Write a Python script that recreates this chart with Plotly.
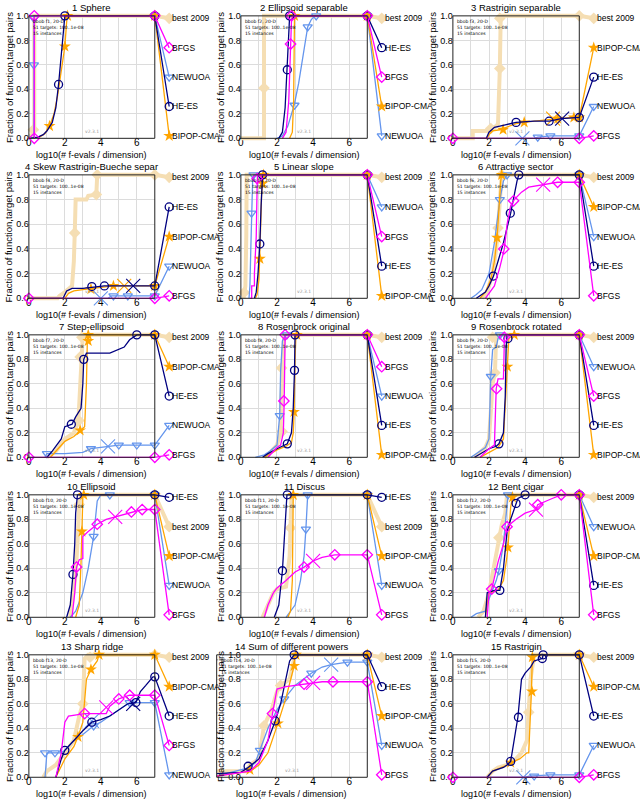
import plotly.graph_objects as go

W, H = 640, 804
FONT = "Liberation Sans, Arial, sans-serif"

ALGS = ["best 2009", "NEWUOA", "BIPOP-CMA", "HE-ES", "BFGS"]  # drawing order
COLOR = {"best 2009": "#F5DEB3", "BFGS": "#FF00FF", "NEWUOA": "#6495ED",
         "HE-ES": "#000080", "BIPOP-CMA": "#FFA500"}
SYMBOL = {"best 2009": "diamond", "BFGS": "diamond-open", "NEWUOA": "triangle-down-open",
          "HE-ES": "circle-open", "BIPOP-CMA": "star"}
MSIZE = {"best 2009": 9, "BFGS": 8, "NEWUOA": 8, "HE-ES": 8, "BIPOP-CMA": 9}
LWIDTH = {"best 2009": 4, "BFGS": 1.3, "NEWUOA": 1.3, "HE-ES": 1.3, "BIPOP-CMA": 1.3}

LABEL_Y = [0.98, 0.74, 0.50, 0.26, 0.02]
LABEL_X = 7.8
X_END = 7.0

TITLES = ["1 Sphere", "2 Ellipsoid separable", "3 Rastrigin separable",
          "4 Skew Rastrigin-Bueche separ", "5 Linear slope", "6 Attractive sector",
          "7 Step-ellipsoid", "8 Rosenbrock original", "9 Rosenbrock rotated",
          "10 Ellipsoid", "11 Discus", "12 Bent cigar",
          "13 Sharp ridge", "14 Sum of different powers", "15 Rastrigin"]
X_MIN = [0, 0, 0, 0, 0, 0, 0, 0, 0, 0, 0, 0, 0, -1.34, 0]
X_TICKS = [0, 2, 4, 6]
Y_TICKS = [0.0, 0.2, 0.4, 0.6, 0.8, 1.0]

# ---------------- data: curves [x list, y list], markers, crosses, label order
P1_CURVES = {
    "best 2009": [[0, 0.2, 0.2, 0.3, 0.3, 7], [0.02, 0.02, 0.07, 0.07, 1, 1]],
    "BFGS": [[0.3, 0.3, 7], [0, 1, 1]],
    "NEWUOA": [[0.28, 0.28, 7], [0, 1, 1]],
    "HE-ES": [[0, 0.5, 0.8, 1.0, 1.3, 1.5, 1.65, 1.8, 1.9, 2.0, 7],
              [0, 0.01, 0.03, 0.06, 0.13, 0.25, 0.44, 0.7, 0.88, 1.0, 1.0]],
    "BIPOP-CMA": [[0.5, 0.9, 1.15, 1.4, 1.6, 1.8, 2.0, 2.1, 2.15, 7],
                  [0, 0.04, 0.1, 0.2, 0.35, 0.55, 0.75, 0.95, 1.0, 1.0]],
}
P1_MARKS = {"best 2009": [[0.25], [0.07]], "BFGS": [[0.3, 0.3], [0.0, 1.0]],
            "NEWUOA": [[0.28, 0.28], [0.6, 0.98]], "HE-ES": [[1.65, 2.0], [0.44, 1.0]],
            "BIPOP-CMA": [[1.15, 2.0, 2.15], [0.1, 0.75, 1.0]]}
P1_CROSS = {}
P1_ORDER = ["best 2009", "BFGS", "NEWUOA", "HE-ES", "BIPOP-CMA"]

P2_CURVES = {
    "best 2009": [[0, 1.28, 1.28, 7], [0, 0, 1, 1]],
    "HE-ES": [[2.1, 2.3, 2.45, 2.57, 2.65, 2.7, 7], [0, 0.05, 0.25, 0.56, 0.85, 1, 1]],
    "BFGS": [[2.3, 2.5, 2.65, 2.75, 2.8, 2.85, 7], [0, 0.05, 0.3, 0.77, 0.95, 1, 1]],
    "BIPOP-CMA": [[2.7, 2.85, 2.92, 2.95, 2.97, 7], [0, 0.05, 0.3, 0.8, 1, 1]],
    "NEWUOA": [[2.0, 2.3, 2.6, 2.95, 3.2, 3.4, 3.7, 3.9, 4.1, 7],
               [0, 0.02, 0.1, 0.27, 0.45, 0.65, 0.91, 0.97, 1, 1]],
}
P2_MARKS = {"best 2009": [[1.28], [0.41]], "HE-ES": [[2.57, 2.7], [0.56, 1.0]],
            "BFGS": [[2.75, 2.8], [0.77, 1.0]], "BIPOP-CMA": [[2.97], [1.0]],
            "NEWUOA": [[2.97, 3.7, 4.17], [0.27, 0.91, 1.0]]}
P2_CROSS = {}
P2_ORDER = ["best 2009", "HE-ES", "BFGS", "BIPOP-CMA", "NEWUOA"]

P3_CURVES = {
    "best 2009": [[0, 1.1, 1.1, 2.0, 2.1, 2.4, 2.5, 2.55, 2.6, 2.65, 7],
                  [0, 0, 0.06, 0.06, 0.08, 0.1, 0.12, 0.3, 0.57, 1.0, 1.0]],
    "BIPOP-CMA": [[0, 1.9, 2.0, 2.2, 2.6, 2.8, 3.5, 3.9, 5.0, 5.8, 6.7, 7],
                  [0, 0, 0.03, 0.06, 0.07, 0.08, 0.12, 0.13, 0.15, 0.16, 0.17, 0.17]],
    "HE-ES": [[0, 1.85, 2.0, 2.3, 2.9, 3.5, 4.5, 5.35, 6.0, 7],
              [0, 0, 0.05, 0.09, 0.11, 0.13, 0.14, 0.14, 0.16, 0.17]],
    "NEWUOA": [[0, 4.5, 4.7, 5.4, 7], [0, 0, 0.01, 0.02, 0.02]],
    "BFGS": [[0, 7], [0, 0]],
}
P3_MARKS = {"best 2009": [[2.1, 2.6, 2.6], [0.08, 0.57, 0.98]],
            "BIPOP-CMA": [[2.78, 3.95, 5.8, 6.7], [0.07, 0.13, 0.16, 0.17]],
            "HE-ES": [[3.5, 5.33], [0.13, 0.14]], "NEWUOA": [[4.7, 5.4], [0.01, 0.02]],
            "BFGS": [[0], [0]]}
P3_CROSS = {"BIPOP-CMA": [5.55, 0.16], "HE-ES": [6.05, 0.16], "NEWUOA": [3.85, 0.0]}
P3_ORDER = ["best 2009", "BIPOP-CMA", "HE-ES", "NEWUOA", "BFGS"]

P4_CURVES = {
    "best 2009": [[0, 1.6, 1.7, 2.0, 2.4, 2.5, 2.55, 2.6, 3.2, 3.3, 3.75, 3.8, 7],
                  [0, 0, 0.02, 0.05, 0.1, 0.3, 0.53, 0.8, 0.8, 0.83, 0.84, 1.0, 1.0]],
    "HE-ES": [[0, 1.9, 2.1, 2.4, 3.0, 3.5, 4.2, 5.8, 7],
              [0, 0, 0.06, 0.08, 0.08, 0.09, 0.1, 0.1, 0.1]],
    "BIPOP-CMA": [[0, 2.0, 2.2, 2.5, 3.0, 3.5, 4.7, 7],
                  [0, 0, 0.04, 0.06, 0.07, 0.08, 0.1, 0.1]],
    "NEWUOA": [[0, 4.4, 4.6, 7], [0, 0, 0.02, 0.02]],
    "BFGS": [[0, 7], [0, 0]],
}
P4_MARKS = {"best 2009": [[2.55, 3.75, 3.8], [0.53, 0.84, 1.0]],
            "HE-ES": [[3.5, 4.2], [0.095, 0.1]], "BIPOP-CMA": [[3.45, 4.7], [0.075, 0.1]],
            "NEWUOA": [[4.7, 5.5], [0.02, 0.02]], "BFGS": [[0], [0]]}
P4_CROSS = {"HE-ES": [5.8, 0.1], "BIPOP-CMA": [5.3, 0.1], "NEWUOA": [4.0, 0.0]}
P4_ORDER = ["best 2009", "HE-ES", "BIPOP-CMA", "NEWUOA", "BFGS"]

P5_CURVES = {
    "best 2009": [[0.15, 0.2, 0.25, 0.3, 0.32, 7], [0.0, 0.05, 0.1, 0.5, 1.0, 1.0]],
    "NEWUOA": [[0.45, 0.5, 0.55, 0.6, 0.65, 0.7, 7], [0, 0.1, 0.4, 0.69, 0.95, 1, 1]],
    "BFGS": [[0.5, 0.6, 0.6, 0.75, 0.75, 0.85, 0.9, 0.92, 7], [0, 0, 0.1, 0.1, 0.2, 0.5, 0.9, 1, 1]],
    "HE-ES": [[0.75, 0.85, 0.95, 1.05, 1.12, 1.18, 1.2, 7], [0, 0.05, 0.2, 0.44, 0.75, 0.95, 1, 1]],
    "BIPOP-CMA": [[0.8, 0.9, 1.0, 1.05, 1.1, 1.15, 1.2, 1.25, 7],
                  [0, 0.03, 0.15, 0.32, 0.6, 0.85, 0.93, 1, 1]],
}
P5_MARKS = {"best 2009": [[0.18], [0.046]], "NEWUOA": [[0.59, 0.7], [0.69, 1.0]],
            "BFGS": [[0.9], [0.97]], "HE-ES": [[1.05, 1.2], [0.44, 1.0]],
            "BIPOP-CMA": [[1.05, 1.2, 1.25], [0.32, 0.93, 1.0]]}
P5_CROSS = {}
P5_ORDER = ["best 2009", "NEWUOA", "BFGS", "HE-ES", "BIPOP-CMA"]

P6_CURVES = {
    "best 2009": [[1.6, 1.9, 2.2, 2.4, 2.5, 2.6, 2.7, 7], [0, 0.05, 0.2, 0.4, 0.57, 0.85, 1, 1]],
    "BIPOP-CMA": [[1.5, 1.8, 2.1, 2.3, 2.45, 2.55, 2.65, 2.7, 7],
                  [0, 0.05, 0.15, 0.3, 0.49, 0.75, 0.95, 1, 1]],
    "NEWUOA": [[1.0, 1.3, 1.6, 2.0, 2.3, 2.6, 2.8, 3.0, 7],
               [0, 0.03, 0.07, 0.2, 0.45, 0.8, 0.95, 1, 1]],
    "HE-ES": [[1.3, 1.8, 2.0, 2.25, 2.5, 2.8, 3.2, 3.4, 3.55, 3.65, 7],
              [0, 0.05, 0.1, 0.18, 0.3, 0.45, 0.69, 0.85, 0.95, 1, 1]],
    "BFGS": [[1.8, 2.3, 2.6, 2.85, 3.0, 3.2, 3.4, 3.8, 4.2, 5.0, 5.8, 7],
             [0, 0.1, 0.25, 0.4, 0.6, 0.75, 0.8, 0.86, 0.9, 0.92, 0.94, 0.94]],
}
P6_MARKS = {"best 2009": [[2.5, 2.7], [0.57, 1.0]], "BIPOP-CMA": [[2.45, 2.7], [0.49, 1.0]],
            "NEWUOA": [[2.6, 3.0], [0.8, 1.0]], "HE-ES": [[2.24, 3.18, 3.65], [0.18, 0.69, 1.0]],
            "BFGS": [[2.82, 3.36, 5.8], [0.4, 0.79, 0.94]]}
P6_CROSS = {"BFGS": [5.0, 0.92]}
P6_ORDER = ["best 2009", "BIPOP-CMA", "NEWUOA", "HE-ES", "BFGS"]

P7_CURVES = {
    "best 2009": [[1.0, 1.5, 2.0, 2.5, 2.75, 2.85, 2.9, 2.95, 3.0, 7],
                  [0, 0.05, 0.15, 0.2, 0.29, 0.6, 0.82, 0.95, 1, 1]],
    "BIPOP-CMA": [[1.2, 1.5, 2.0, 2.5, 2.85, 3.1, 3.2, 3.25, 3.3, 7],
                  [0, 0.05, 0.13, 0.17, 0.22, 0.25, 0.6, 0.95, 1, 1]],
    "HE-ES": [[1.0, 1.3, 1.8, 2.0, 2.4, 2.6, 2.9, 3.0, 3.05, 3.2, 4.5, 5.0, 5.3, 5.6, 6.0, 7],
              [0, 0.05, 0.15, 0.25, 0.27, 0.33, 0.4, 0.6, 0.8, 0.85, 0.85, 0.88, 0.9, 0.96, 1, 1]],
    "NEWUOA": [[0.9, 1.0, 2.0, 3.0, 3.45, 4.4, 5.0, 7], [0, 0.03, 0.03, 0.04, 0.07, 0.09, 0.1, 0.1]],
    "BFGS": [[0, 7], [0, 0]],
}
P7_MARKS = {"best 2009": [[2.78, 2.85, 2.95], [0.3, 0.82, 0.98]],
            "BIPOP-CMA": [[2.85, 3.3, 3.3], [0.22, 0.95, 1.0]],
            "HE-ES": [[2.36, 3.05, 6.0], [0.27, 0.8, 1.0]],
            "NEWUOA": [[1.0, 3.45, 5.0, 6.0], [0.03, 0.07, 0.1, 0.1]], "BFGS": [[0], [0]]}
P7_CROSS = {"NEWUOA": [4.4, 0.09]}
P7_ORDER = ["best 2009", "BIPOP-CMA", "HE-ES", "NEWUOA", "BFGS"]

P8_CURVES = {
    "best 2009": [[1.3, 1.5, 2.0, 2.2, 2.25, 2.3, 2.35, 2.4, 7], [0, 0.02, 0.1, 0.2, 0.5, 0.73, 0.95, 1, 1]],
    "BFGS": [[1.5, 2.0, 2.2, 2.35, 2.4, 2.45, 7], [0, 0.08, 0.1, 0.2, 0.46, 1, 1]],
    "NEWUOA": [[0.8, 1.3, 1.6, 2.0, 2.15, 2.2, 2.3, 2.4, 2.55, 7],
               [0, 0.02, 0.05, 0.1, 0.34, 0.7, 0.95, 0.98, 1, 1]],
    "HE-ES": [[1.2, 1.5, 2.0, 2.3, 2.57, 2.8, 2.9, 2.97, 3.0, 7],
              [0, 0.03, 0.07, 0.09, 0.11, 0.2, 0.4, 0.71, 1, 1]],
    "BIPOP-CMA": [[1.3, 2.0, 2.5, 2.8, 2.9, 2.95, 3.0, 3.05, 7],
                  [0, 0.06, 0.09, 0.12, 0.2, 0.37, 0.8, 1, 1]],
}
P8_MARKS = {"best 2009": [[2.28, 2.25], [0.21, 0.73]], "BFGS": [[2.38, 2.45], [0.46, 1.0]],
            "NEWUOA": [[2.15, 2.55], [0.34, 1.0]], "HE-ES": [[2.57, 2.97, 3.0], [0.11, 0.71, 1.0]],
            "BIPOP-CMA": [[2.94, 3.1], [0.37, 1.0]]}
P8_CROSS = {}
P8_ORDER = ["best 2009", "BFGS", "NEWUOA", "HE-ES", "BIPOP-CMA"]

P9_CURVES = {
    "best 2009": [[1.2, 1.5, 1.8, 2.0, 2.1, 2.2, 2.33, 2.35, 2.4, 7],
                  [0, 0.04, 0.08, 0.15, 0.4, 0.6, 0.69, 0.9, 1.0, 1.0]],
    "NEWUOA": [[1.0, 1.5, 1.8, 2.0, 2.1, 2.2, 2.4, 2.5, 2.6, 7],
               [0, 0.05, 0.08, 0.15, 0.66, 0.88, 0.9, 0.97, 1, 1]],
    "BFGS": [[1.5, 2.0, 2.3, 2.35, 2.4, 2.5, 2.8, 2.85, 2.9, 7],
             [0, 0.07, 0.1, 0.4, 0.56, 0.64, 0.64, 0.95, 1, 1]],
    "HE-ES": [[1.2, 2.0, 2.4, 2.55, 2.8, 2.9, 2.95, 3.0, 7], [0, 0.07, 0.09, 0.11, 0.2, 0.5, 0.9, 1, 1]],
    "BIPOP-CMA": [[1.5, 2.5, 2.8, 2.9, 3.0, 3.1, 3.3, 3.4, 7], [0, 0.08, 0.15, 0.4, 0.74, 0.97, 0.99, 1, 1]],
}
P9_MARKS = {"best 2009": [[2.33, 2.2], [0.69, 0.98]], "NEWUOA": [[2.1, 2.6], [0.66, 1.0]],
            "BFGS": [[2.42, 2.85], [0.56, 0.98]], "HE-ES": [[2.55, 3.05], [0.11, 0.97]],
            "BIPOP-CMA": [[3.02, 3.4], [0.74, 1.0]]}
P9_CROSS = {}
P9_ORDER = ["best 2009", "NEWUOA", "BFGS", "HE-ES", "BIPOP-CMA"]

P10_CURVES = {
    "HE-ES": [[2.1, 2.3, 2.45, 2.55, 2.6, 2.65, 2.7, 7], [0, 0.1, 0.35, 0.6, 0.85, 0.97, 1, 1]],
    "best 2009": [[2.3, 2.5, 2.6, 2.7, 2.8, 2.9, 7], [0, 0.2, 0.35, 0.6, 0.92, 1, 1]],
    "BIPOP-CMA": [[2.6, 2.8, 2.9, 2.95, 3.0, 3.05, 7], [0, 0.1, 0.45, 0.7, 0.98, 1, 1]],
    "NEWUOA": [[2.3, 2.6, 3.0, 3.3, 3.6, 3.8, 4.0, 7], [0, 0.05, 0.2, 0.4, 0.66, 0.95, 1, 1]],
    "BFGS": [[2.4, 2.55, 2.65, 2.8, 3.0, 3.0, 3.3, 3.8, 4.3, 4.8, 5.7, 6.3, 7],
             [0, 0.2, 0.41, 0.47, 0.48, 0.66, 0.7, 0.76, 0.8, 0.82, 0.86, 0.88, 0.88]],
}
P10_MARKS = {"HE-ES": [[2.45, 2.7], [0.35, 1.0]], "best 2009": [[2.8], [0.92]],
             "BIPOP-CMA": [[2.95, 3.05], [0.7, 1.0]], "NEWUOA": [[3.6, 4.5], [0.66, 1.0]],
             "BFGS": [[2.65, 3.8, 5.7, 6.3], [0.41, 0.76, 0.86, 0.88]]}
P10_CROSS = {"BFGS": [4.8, 0.82]}
P10_ORDER = ["HE-ES", "best 2009", "BIPOP-CMA", "NEWUOA", "BFGS"]

P11_CURVES = {
    "HE-ES": [[1.85, 2.1, 2.3, 2.45, 2.55, 7], [0, 0.1, 0.38, 0.8, 1, 1]],
    "best 2009": [[1.2, 1.5, 1.8, 2.0, 2.5, 2.7, 2.75, 2.8, 7], [0, 0.1, 0.2, 0.23, 0.25, 0.5, 0.73, 1, 1]],
    "BIPOP-CMA": [[2.6, 2.75, 2.85, 2.9, 7], [0, 0.05, 0.3, 1, 1]],
    "NEWUOA": [[2.5, 3.0, 3.3, 3.5, 3.6, 3.7, 7], [0, 0.1, 0.3, 0.5, 0.72, 1, 1]],
    "BFGS": [[1.3, 1.5, 1.8, 2.0, 2.5, 3.0, 3.5, 4.0, 4.5, 5.2, 7],
             [0, 0.1, 0.2, 0.24, 0.3, 0.37, 0.41, 0.46, 0.49, 0.51, 0.51]],
}
P11_MARKS = {"HE-ES": [[2.3, 2.57], [0.38, 1.0]], "best 2009": [[2.75], [0.73]],
             "BIPOP-CMA": [[2.9], [1.0]], "NEWUOA": [[3.6, 3.7], [0.72, 1.0]],
             "BFGS": [[3.5, 5.2], [0.41, 0.51]]}
P11_CROSS = {"BFGS": [4.0, 0.46]}
P11_ORDER = ["HE-ES", "best 2009", "BIPOP-CMA", "NEWUOA", "BFGS"]

P12_CURVES = {
    "best 2009": [[1.4, 1.7, 2.0, 2.3, 2.55, 2.7, 2.9, 3.0, 7], [0, 0.05, 0.2, 0.45, 0.65, 0.75, 0.85, 1, 1]],
    "NEWUOA": [[1.0, 1.3, 1.8, 2.0, 2.4, 2.55, 2.8, 3.0, 3.05, 7],
               [0, 0.03, 0.05, 0.15, 0.3, 0.38, 0.6, 0.9, 1, 1]],
    "BIPOP-CMA": [[1.8, 2.0, 2.5, 2.8, 3.0, 3.05, 3.2, 3.3, 3.4, 7],
                  [0, 0.2, 0.22, 0.3, 0.5, 0.57, 0.9, 0.98, 1, 1]],
    "HE-ES": [[1.8, 1.9, 2.3, 2.6, 2.8, 3.0, 3.2, 3.5, 3.6, 4.0, 7],
              [0, 0.2, 0.22, 0.22, 0.4, 0.7, 0.8, 0.93, 0.97, 1, 1]],
    "BFGS": [[1.9, 2.0, 2.15, 2.5, 2.8, 3.0, 3.5, 4.0, 4.6, 4.7, 5.5, 6.0, 7],
             [0, 0.2, 0.23, 0.45, 0.6, 0.74, 0.8, 0.85, 0.88, 0.92, 0.97, 1, 1]],
}
P12_MARKS = {"best 2009": [[2.55], [0.65]], "NEWUOA": [[2.55, 3.05], [0.38, 1.0]],
             "BIPOP-CMA": [[3.05, 3.3], [0.57, 0.98]], "HE-ES": [[2.6, 3.5, 4.0], [0.22, 0.93, 1.0]],
             "BFGS": [[2.15, 3.0, 4.7, 6.0], [0.23, 0.74, 0.92, 1.0]]}
P12_CROSS = {"BFGS": [4.6, 0.88]}
P12_ORDER = ["best 2009", "NEWUOA", "BIPOP-CMA", "HE-ES", "BFGS"]

P13_CURVES = {
    "best 2009": [[0.8, 1.0, 1.5, 2.0, 2.5, 2.8, 3.0, 3.1, 3.3, 7], [0, 0.05, 0.1, 0.2, 0.3, 0.5, 0.6, 0.97, 1, 1]],
    "BIPOP-CMA": [[1.5, 2.0, 2.5, 2.73, 3.0, 3.2, 3.45, 3.8, 3.9, 7],
                  [0, 0.15, 0.25, 0.33, 0.45, 0.8, 0.88, 0.95, 1, 1]],
    "HE-ES": [[1.5, 1.8, 2.0, 2.5, 3.0, 3.5, 4.0, 4.5, 5.0, 5.5, 5.95, 6.2, 6.5, 6.9, 7],
              [0, 0.15, 0.22, 0.3, 0.38, 0.45, 0.47, 0.5, 0.55, 0.6, 0.61, 0.7, 0.75, 0.82, 0.82]],
    "BFGS": [[1.5, 1.8, 2.0, 2.2, 3.1, 4.3, 4.5, 5.0, 5.6, 7],
             [0, 0.2, 0.45, 0.5, 0.52, 0.52, 0.58, 0.64, 0.67, 0.67]],
    "NEWUOA": [[0.9, 1.0, 1.8, 2.0, 2.5, 3.0, 3.6, 4.0, 4.5, 5.0, 5.6, 7],
               [0, 0.2, 0.2, 0.22, 0.3, 0.35, 0.42, 0.45, 0.5, 0.55, 0.61, 0.61]],
}
P13_MARKS = {"best 2009": [[3.0, 3.4], [0.6, 0.98]],
             "BIPOP-CMA": [[2.73, 3.45, 3.9], [0.33, 0.88, 1.0]],
             "HE-ES": [[2.0, 3.5, 5.95], [0.22, 0.45, 0.61]],
             "BFGS": [[3.1, 5.0, 5.6], [0.52, 0.64, 0.67]],
             "NEWUOA": [[0.9, 1.45, 3.6, 5.6], [0.2, 0.2, 0.42, 0.61]]}
P13_CROSS = {"HE-ES": [5.8, 0.6], "BFGS": [4.3, 0.57], "NEWUOA": [3.5, 0.46]}
P13_ORDER = ["best 2009", "BIPOP-CMA", "HE-ES", "BFGS", "NEWUOA"]

P14_CURVES = {
    "best 2009": [[-1.34, 0.3, 0.5, 1.0, 1.28, 1.7, 2.0, 2.2, 2.7, 2.9, 3.0, 7],
                  [0.05, 0.05, 0.1, 0.15, 0.42, 0.55, 0.7, 0.75, 0.8, 0.95, 1, 1]],
    "HE-ES": [[-1.34, 0, 0.4, 1.0, 1.5, 1.9, 2.2, 2.5, 2.7, 2.95, 7],
              [0.03, 0.04, 0.08, 0.15, 0.3, 0.46, 0.6, 0.8, 0.95, 1, 1]],
    "BIPOP-CMA": [[-1.34, 0.5, 1.0, 1.5, 2.05, 2.5, 2.95, 3.0, 7],
                  [0.01, 0.05, 0.1, 0.2, 0.44, 0.65, 0.91, 1, 1]],
    "NEWUOA": [[-1.34, 0.5, 0.8, 1.05, 1.5, 2.0, 2.4, 3.0, 3.9, 4.5, 5.0, 5.9, 7],
               [0.01, 0.08, 0.12, 0.22, 0.4, 0.55, 0.64, 0.75, 0.85, 0.9, 0.92, 0.94, 0.94]],
    "BFGS": [[-1.34, 0.5, 1.0, 1.5, 1.75, 2.0, 2.5, 3.0, 3.5, 4.0, 4.5, 5.1, 7],
             [0.01, 0.05, 0.12, 0.3, 0.52, 0.72, 0.74, 0.75, 0.76, 0.77, 0.78, 0.78, 0.78]],
}
P14_MARKS = {"best 2009": [[1.28, 2.2], [0.42, 0.75]],
             "HE-ES": [[0.4, 1.9, 2.95], [0.09, 0.46, 1.0]],
             "BIPOP-CMA": [[0.5, 2.05, 2.95, 3.05], [0.06, 0.44, 0.91, 1.0]],
             "NEWUOA": [[1.05, 2.4, 3.9, 5.9], [0.22, 0.64, 0.85, 0.94]],
             "BFGS": [[1.75, 3.5, 5.1], [0.52, 0.76, 0.78]]}
P14_CROSS = {"NEWUOA": [5.0, 0.92], "BFGS": [4.0, 0.77]}
P14_ORDER = ["best 2009", "HE-ES", "BIPOP-CMA", "NEWUOA", "BFGS"]

P15_CURVES = {
    "best 2009": [[1.9, 2.2, 2.5, 3.0, 3.5, 3.8, 4.1, 4.2, 4.3, 4.4, 4.5, 7],
                  [0, 0.05, 0.08, 0.1, 0.15, 0.2, 0.3, 0.53, 0.8, 0.9, 1, 1]],
    "BIPOP-CMA": [[1.9, 2.2, 3.0, 3.2, 3.7, 4.1, 4.2, 4.3, 4.35, 4.4, 4.5, 7],
                  [0, 0.05, 0.1, 0.12, 0.15, 0.2, 0.2, 0.5, 0.7, 0.98, 1, 1]],
    "HE-ES": [[1.9, 2.2, 2.8, 3.0, 3.2, 3.4, 3.6, 3.8, 4.0, 4.3, 4.5, 4.95, 5.0, 7],
              [0, 0.05, 0.08, 0.1, 0.13, 0.3, 0.49, 0.8, 0.85, 0.9, 0.95, 0.97, 1, 1]],
    "NEWUOA": [[0, 4.0, 4.2, 5.4, 7], [0, 0, 0.01, 0.02, 0.02]],
    "BFGS": [[0, 7], [0, 0]],
}
P15_MARKS = {"best 2009": [[4.2], [0.53]], "BIPOP-CMA": [[3.2, 4.38, 4.4], [0.12, 0.7, 0.98]],
             "HE-ES": [[3.2, 3.63, 4.95, 5.0], [0.13, 0.49, 0.97, 1.0]],
             "NEWUOA": [[4.5, 5.4], [0.01, 0.02]], "BFGS": [[0], [0]]}
P15_CROSS = {"NEWUOA": [3.9, 0.0]}
P15_ORDER = ["best 2009", "BIPOP-CMA", "HE-ES", "NEWUOA", "BFGS"]

PANELS = [
    (P1_CURVES, P1_MARKS, P1_CROSS, P1_ORDER), (P2_CURVES, P2_MARKS, P2_CROSS, P2_ORDER),
    (P3_CURVES, P3_MARKS, P3_CROSS, P3_ORDER), (P4_CURVES, P4_MARKS, P4_CROSS, P4_ORDER),
    (P5_CURVES, P5_MARKS, P5_CROSS, P5_ORDER), (P6_CURVES, P6_MARKS, P6_CROSS, P6_ORDER),
    (P7_CURVES, P7_MARKS, P7_CROSS, P7_ORDER), (P8_CURVES, P8_MARKS, P8_CROSS, P8_ORDER),
    (P9_CURVES, P9_MARKS, P9_CROSS, P9_ORDER), (P10_CURVES, P10_MARKS, P10_CROSS, P10_ORDER),
    (P11_CURVES, P11_MARKS, P11_CROSS, P11_ORDER), (P12_CURVES, P12_MARKS, P12_CROSS, P12_ORDER),
    (P13_CURVES, P13_MARKS, P13_CROSS, P13_ORDER), (P14_CURVES, P14_MARKS, P14_CROSS, P14_ORDER),
    (P15_CURVES, P15_MARKS, P15_CROSS, P15_ORDER),
]

# ---------------- layout geometry (pixels)
COL_L = [26, 239, 452]      # pixel of x = 0
COL_R = [152.5, 366, 579]   # pixel of x = 7
YT_PX = [6, 218, 431]       # y-title centre
ROW_T = [11, 172, 334, 496, 658]
ROW_B = [135, 297, 458, 620, 782]


def fx(px):
    return px / W


def fy(py):
    return 1 - py / H


fig = go.Figure()
layout = {}
annotations = []
shapes = []
grid_c = "#dcdcdc"

for i, (curves, marks, cross, order) in enumerate(PANELS):
    r, c = divmod(i, 3)
    k = i + 1
    ke = i + 16
    x0 = X_MIN[i]
    s = (COL_R[c] - COL_L[c]) / X_END
    left = COL_L[c] + x0 * s
    right = COL_R[c]
    top, bot = ROW_T[r], ROW_B[r]
    h = bot - top
    sx = "" if k == 1 else str(k)

    layout["xaxis" + sx] = dict(
        domain=[fx(left), fx(right)], range=[x0, X_END], anchor="y" + sx,
        tickvals=X_TICKS, ticktext=[str(t) for t in X_TICKS], showgrid=True, gridcolor=grid_c,
        gridwidth=1, zeroline=False, showline=False, ticks="", ticklabelstandoff=-3,
        minor=dict(dtick=1, tick0=0, showgrid=True, gridcolor=grid_c, gridwidth=1, ticks=""),
        tickfont=dict(size=10, family=FONT, color="black"), fixedrange=True)
    layout["yaxis" + sx] = dict(
        domain=[fy(bot), fy(top)], range=[0, 1], anchor="free", position=fx(COL_L[c]),
        tickvals=Y_TICKS, ticktext=["%.1f" % t for t in Y_TICKS], showgrid=True,
        gridcolor=grid_c, gridwidth=1, zeroline=False, showline=False, ticks="",
        tickfont=dict(size=9, family=FONT, color="black"), fixedrange=True)
    fig.add_trace(go.Scatter(x=[x0], y=[0.5], mode="markers", marker=dict(opacity=0),
                             xaxis="x" + sx, yaxis="y" + sx, showlegend=False, hoverinfo="skip"))

    # extended (invisible) axes for data incl. right-hand label links
    ext_hi = 8.15
    layout["xaxis%d" % ke] = dict(
        domain=[fx(left), fx(right + (ext_hi - X_END) * s)], range=[x0, ext_hi],
        anchor="y%d" % ke, visible=False, fixedrange=True)
    pad = 0.04
    layout["yaxis%d" % ke] = dict(
        domain=[fy(bot + pad * h), fy(top - pad * h)], range=[-pad, 1 + pad],
        anchor="x%d" % ke, visible=False, fixedrange=True)

    lab_y = {alg: LABEL_Y[j] for j, alg in enumerate(order)}
    for alg in ALGS:
        cx, cy = curves[alg]
        lx = list(cx) + [LABEL_X]
        ly = list(cy) + [lab_y[alg]]
        fig.add_trace(go.Scatter(
            x=lx, y=ly, mode="lines", line=dict(color=COLOR[alg], width=LWIDTH[alg]),
            xaxis="x%d" % ke, yaxis="y%d" % ke, showlegend=False, hoverinfo="skip"))
        mx, my = marks[alg]
        mx = list(mx) + [cx[-1], LABEL_X]
        my = list(my) + [cy[-1], lab_y[alg]]
        filled = alg in ("best 2009", "BIPOP-CMA")
        fig.add_trace(go.Scatter(
            x=mx, y=my, mode="markers", cliponaxis=False,
            marker=dict(symbol=SYMBOL[alg], size=MSIZE[alg], color=COLOR[alg],
                        line=dict(color=COLOR[alg], width=1.3 if not filled else 0)),
            xaxis="x%d" % ke, yaxis="y%d" % ke, showlegend=False, hoverinfo="skip"))
        if alg in cross:
            fig.add_trace(go.Scatter(
                x=[cross[alg][0]], y=[cross[alg][1]], mode="markers", cliponaxis=False,
                marker=dict(symbol="x-thin-open", size=14, color=COLOR[alg],
                            line=dict(color=COLOR[alg], width=1.1)),
                xaxis="x%d" % ke, yaxis="y%d" % ke, showlegend=False, hoverinfo="skip"))
        annotations.append(dict(
            x=LABEL_X, y=lab_y[alg], xref="x%d" % ke, yref="y%d" % ke, text=alg,
            showarrow=False, xanchor="left", yanchor="middle", xshift=1,
            font=dict(size=8.5, family=FONT, color="black")))

    # frame
    shapes.append(dict(type="rect", xref="paper", yref="paper", x0=fx(left), x1=fx(right),
                       y0=fy(bot), y1=fy(top), line=dict(color="#222222", width=1),
                       fillcolor="rgba(0,0,0,0)", layer="above"))
    # titles
    annotations.append(dict(x=fx((left + right) / 2), y=fy(top - 1), xref="paper", yref="paper",
                            text=TITLES[i], showarrow=False, xanchor="center", yanchor="bottom",
                            font=dict(size=9.5, family=FONT, color="black")))
    annotations.append(dict(x=fx((left + right) / 2), y=fy(bot + 17), xref="paper", yref="paper",
                            text="log10(# f-evals / dimension)", showarrow=False,
                            xanchor="center", yanchor="middle",
                            font=dict(size=9, family=FONT, color="black")))
    annotations.append(dict(x=fx(YT_PX[c]), y=fy((top + bot) / 2), xref="paper", yref="paper",
                            text="Fraction of function,target pairs", showarrow=False,
                            textangle=-90, xanchor="center", yanchor="middle",
                            font=dict(size=9.5, family=FONT, color="black")))
    annotations.append(dict(x=fx(left + 2), y=fy(top + 1), xref="paper", yref="paper",
                            text="bbob f%d, 20-D<br>51 targets: 100..1e-08<br>15 instances" % k,
                            showarrow=False, xanchor="left", yanchor="top", align="left",
                            font=dict(size=4.5, family="DejaVu Sans", color="black")))
    annotations.append(dict(x=fx((left + right) / 2), y=fy(bot - 2), xref="paper", yref="paper",
                            text="v2.3.1", showarrow=False, xanchor="center", yanchor="bottom",
                            font=dict(size=4.5, family="DejaVu Sans", color="#999999")))

fig.update_layout(
    width=W, height=H, margin=dict(l=0, r=0, t=0, b=0),
    paper_bgcolor="white", plot_bgcolor="rgba(0,0,0,0)",
    showlegend=False, annotations=annotations, shapes=shapes, **layout)

fig.write_html("out.html", config={"displayModeBar": False},
               post_script="document.body.style.margin='0px';")
